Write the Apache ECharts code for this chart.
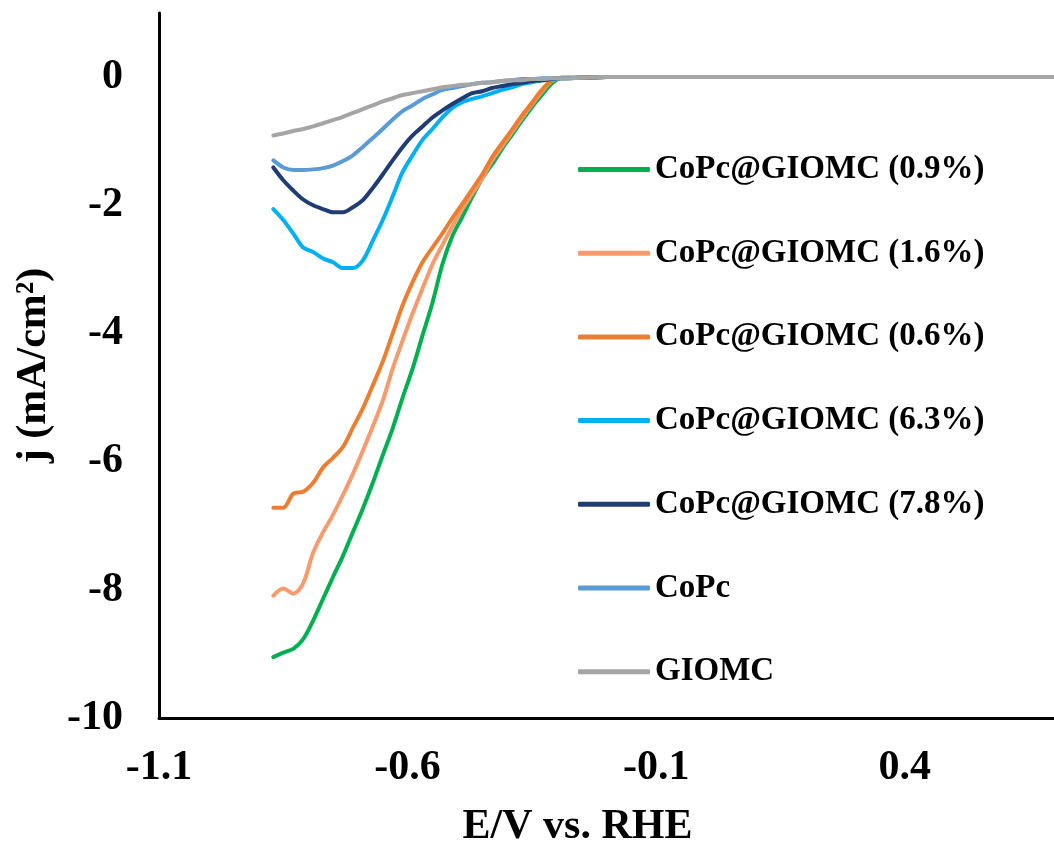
<!DOCTYPE html>
<html>
<head>
<meta charset="utf-8">
<script src="https://cdn.jsdelivr.net/npm/echarts@6/dist/echarts.min.js"></script>
<style>
  html, body { margin: 0; padding: 0; background: #fff; }
  #chart { width: 1054px; height: 850px; }
</style>
</head>
<body>
<div id="chart"></div>
<script>
// Potential (V vs. RHE)
const potential = [-0.87,-0.85,-0.83,-0.81,-0.79,-0.77,-0.75,-0.73,-0.71,-0.69,-0.67,-0.65,-0.63,-0.61,-0.59,-0.57,-0.55,-0.53,-0.51,-0.49,-0.47,-0.45,-0.43,-0.41,-0.39,-0.37,-0.35,-0.33,-0.31,-0.29,-0.25,-0.2,-0.1,0,0.1,0.2,0.3,0.4,0.5,0.6,0.7];

// Current density (mA/cm2) for each sample
const j_09 = [-9.05,-8.98,-8.92,-8.77,-8.48,-8.14,-7.8,-7.47,-7.1,-6.73,-6.33,-5.9,-5.48,-5.0,-4.55,-4.03,-3.52,-2.92,-2.48,-2.18,-1.87,-1.58,-1.36,-1.12,-0.9,-0.68,-0.47,-0.28,-0.1,-0.01,-0.01,0,0,0,0,0,0,0,0,0,0];
const j_16 = [-8.09,-7.98,-8.06,-7.9,-7.42,-7.1,-6.83,-6.52,-6.19,-5.83,-5.45,-5.05,-4.55,-4.11,-3.69,-3.3,-2.92,-2.62,-2.33,-2.06,-1.82,-1.58,-1.3,-1.08,-0.86,-0.64,-0.43,-0.23,-0.06,-0.01,-0.01,0,0,0,0,0,0,0,0,0,0];
const j_06 = [-6.72,-6.72,-6.5,-6.47,-6.33,-6.09,-5.94,-5.77,-5.47,-5.17,-4.81,-4.44,-4.0,-3.56,-3.2,-2.89,-2.66,-2.44,-2.2,-1.98,-1.75,-1.52,-1.25,-1.03,-0.82,-0.6,-0.4,-0.2,-0.05,-0.01,-0.01,0,0,0,0,0,0,0,0,0,0];
const j_63 = [-2.06,-2.23,-2.44,-2.66,-2.73,-2.83,-2.89,-2.98,-2.98,-2.86,-2.55,-2.23,-1.86,-1.48,-1.22,-0.98,-0.81,-0.63,-0.48,-0.39,-0.34,-0.3,-0.25,-0.2,-0.16,-0.11,-0.08,-0.05,-0.03,-0.02,-0.01,0,0,0,0,0,0,0,0,0,0];
const j_78 = [-1.41,-1.61,-1.77,-1.91,-2.0,-2.06,-2.11,-2.11,-2.03,-1.92,-1.73,-1.52,-1.3,-1.09,-0.91,-0.77,-0.63,-0.52,-0.42,-0.33,-0.25,-0.22,-0.17,-0.14,-0.11,-0.09,-0.06,-0.05,-0.03,-0.02,-0.01,0,0,0,0,0,0,0,0,0,0];
const j_copc = [-1.3,-1.41,-1.45,-1.45,-1.44,-1.42,-1.38,-1.31,-1.22,-1.09,-0.95,-0.81,-0.66,-0.53,-0.44,-0.34,-0.27,-0.2,-0.17,-0.14,-0.11,-0.09,-0.08,-0.06,-0.05,-0.03,-0.03,-0.02,-0.02,-0.02,-0.01,0,0,0,0,0,0,0,0,0,0];
const j_giomc = [-0.91,-0.88,-0.84,-0.81,-0.77,-0.72,-0.67,-0.62,-0.56,-0.5,-0.44,-0.38,-0.33,-0.28,-0.25,-0.22,-0.19,-0.16,-0.14,-0.12,-0.11,-0.09,-0.08,-0.06,-0.05,-0.05,-0.03,-0.03,-0.02,-0.02,-0.01,0,0,0,0,0,0,0,0,0,0];

const seriesNames = ['CoPc@GIOMC (0.9%)','CoPc@GIOMC (1.6%)','CoPc@GIOMC (0.6%)','CoPc@GIOMC (6.3%)','CoPc@GIOMC (7.8%)','CoPc','GIOMC'];
const seriesValues = [j_09, j_16, j_06, j_63, j_78, j_copc, j_giomc];
const seriesColors = ['#00B050','#F79B6C','#ED7D31','#00B0F0','#203C74','#5B9BD5','#A5A5A5'];

const xTicks = [-1.1, -0.6, -0.1, 0.4];
const yTicks = [-10, -8, -6, -4, -2, 0];

const FONT = '"Liberation Serif", "Times New Roman", serif';

const chart = echarts.init(document.getElementById('chart'));
chart.setOption({
  animation: false,
  backgroundColor: '#ffffff',
  grid: { left: 159, top: 13, right: 0, bottom: 132, containLabel: false, outerBoundsMode: 'none' },
  legend: {
    orient: 'vertical',
    left: 578,
    top: 153,
    padding: 0,
    itemWidth: 72,
    itemHeight: 5,
    itemGap: 50.7,
    icon: 'roundRect',
    data: seriesNames,
    textStyle: { fontFamily: FONT, fontWeight: 'bold', fontSize: 33, lineHeight: 33, color: '#000' }
  },
  xAxis: {
    type: 'value',
    min: -1.1,
    max: 0.7,
    interval: 0.5,
    name: 'E/V vs. RHE',
    nameLocation: 'middle',
    nameGap: 88,
    nameTextStyle: { fontFamily: FONT, fontWeight: 'bold', fontSize: 42, color: '#000', padding: [0, 58, 0, 0] },
    axisLine: { show: true, onZero: false, lineStyle: { color: '#000', width: 3 } },
    axisTick: { show: false },
    splitLine: { show: false },
    axisLabel: {
      margin: 29,
      fontFamily: FONT, fontWeight: 'bold', fontSize: 42, color: '#000',
      formatter: function (v) {
        for (const t of xTicks) { if (Math.abs(v - t) < 1e-6) return t.toFixed(1); }
        return '';
      }
    }
  },
  yAxis: {
    type: 'value',
    min: -10,
    max: 1,
    interval: 2,
    name: 'j (mA/cm²)',
    nameLocation: 'middle',
    nameGap: 104,
    nameRotate: 90,
    nameTextStyle: { fontFamily: FONT, fontWeight: 'bold', fontSize: 42, color: '#000' },
    axisLine: { show: true, onZero: false, lineStyle: { color: '#000', width: 3 } },
    axisTick: { show: false },
    splitLine: { show: false },
    axisLabel: {
      margin: 36,
      fontFamily: FONT, fontWeight: 'bold', fontSize: 42, color: '#000',
      formatter: function (v) {
        for (const t of yTicks) { if (Math.abs(v - t) < 1e-6) return String(t); }
        return '';
      }
    }
  },
  series: seriesNames.map(function (name, i) {
    return {
      name: name,
      type: 'line',
      showSymbol: false,
      smooth: 0.3,
      color: seriesColors[i],
      lineStyle: { width: 4, color: seriesColors[i], cap: 'round', join: 'round' },
      data: potential.map(function (e, k) { return [e, seriesValues[i][k]]; })
    };
  })
});
</script>
</body>
</html>
